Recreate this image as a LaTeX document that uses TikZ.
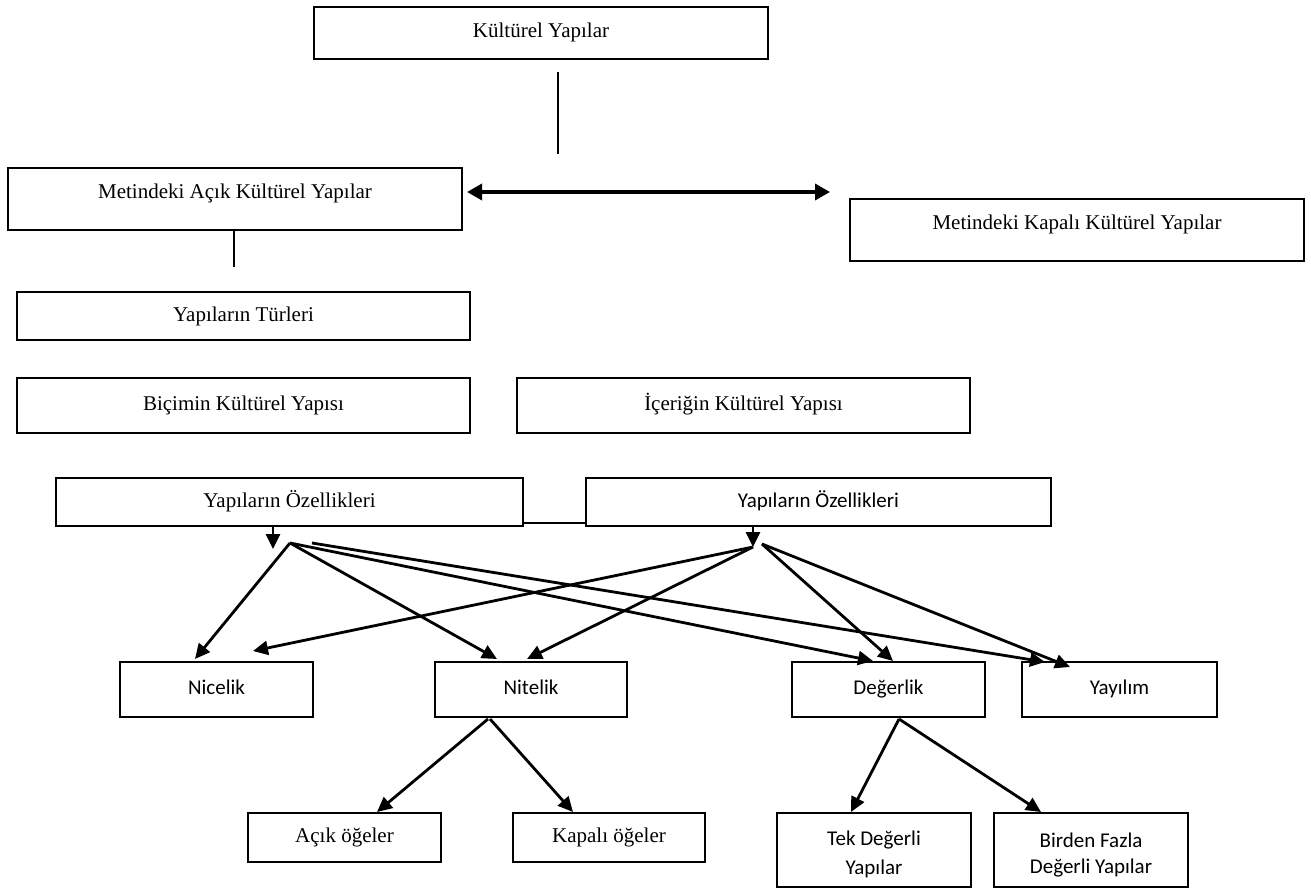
\documentclass[tikz,border=0pt]{standalone}
\usepackage{fontspec}
\setmainfont{Liberation Serif}
\newfontfamily\calfont{Carlito}
\usetikzlibrary{arrows.meta,calc}
\begin{document}
\begin{tikzpicture}[x=1pt,y=-1pt,
  serifbox/.style={draw=black, line width=2pt, inner sep=0pt, align=center,
    font=\fontsize{21}{25}\selectfont, text height=15pt, text depth=5pt},
  sansbox/.style={serifbox, font=\calfont\fontsize{21}{25}\selectfont},
  multibox/.style={draw=black, line width=2pt, inner sep=0pt, align=center,
    font=\calfont\fontsize{21}{#1}\selectfont},
  arr/.style={line width=2.8pt, -{Triangle[length=15pt,width=14pt]}},
  thinline/.style={line width=1.3pt},
  dblarr/.style={line width=3.4pt, {Triangle[length=15pt,width=16pt]}-{Triangle[length=15pt,width=16pt]}}
]
\useasboundingbox (0,0) rectangle (1311,888);

% boxes
\node[serifbox, minimum width=454pt, minimum height=52pt] (kult) at (541,33) {Kültürel Yapılar};
\node[serifbox, minimum width=454pt, minimum height=62pt, text depth=17pt] (acik) at (235,199) {Metindeki Açık Kültürel Yapılar};
\node[serifbox, minimum width=454pt, minimum height=62pt, text depth=17pt] (kapali) at (1077,230) {Metindeki Kapalı Kültürel Yapılar};
\node[serifbox, minimum width=453pt, minimum height=48pt] (turler) at (243.5,316) {Yapıların Türleri};
\node[serifbox, minimum width=453pt, minimum height=55pt] (bicim) at (243.5,405.5) {Biçimin Kültürel Yapısı};
\node[serifbox, minimum width=453pt, minimum height=55pt] (icerik) at (743.5,405.5) {İçeriğin Kültürel Yapısı};
\node[serifbox, minimum width=467pt, minimum height=48pt] (oz1) at (289.5,502) {Yapıların Özellikleri};
\node[sansbox, minimum width=465pt, minimum height=48pt] (oz2) at (818.5,502) {Yapıların Özellikleri};

\node[sansbox, minimum width=193pt, minimum height=55pt] (nicelik) at (216.5,689.5) {Nicelik};
\node[sansbox, minimum width=192pt, minimum height=55pt] (nitelik) at (531,689.5) {Nitelik};
\node[sansbox, minimum width=193pt, minimum height=55pt] (degerlik) at (888.5,689.5) {Değerlik};
\node[sansbox, minimum width=195pt, minimum height=55pt] (yayilim) at (1119.5,689.5) {Yayılım};

\node[serifbox, minimum width=193pt, minimum height=49pt] (acikoge) at (344.5,837.5) {Açık öğeler};
\node[serifbox, minimum width=192pt, minimum height=49pt] (kapalioge) at (609,837.5) {Kapalı öğeler};
\node[multibox=29pt, minimum width=194pt, minimum height=74pt, text height=54pt, text depth=5pt] (tek) at (874,850) {Tek Değerli\\Yapılar};
\node[multibox=26pt, minimum width=194pt, minimum height=74pt, text height=51pt, text depth=5pt] (birden) at (1091,850) {Birden Fazla\\Değerli Yapılar};

% free ends
\coordinate (vend) at (558,154);
\coordinate (aend) at (234,267);
\coordinate (dblend) at (830,192);
\coordinate (d1) at (273,549);
\coordinate (P1) at (290,543);
\coordinate (P1b) at (312,543);
\coordinate (P2a) at (753,547);
\coordinate (P2b) at (762,544);

% top connectors
\draw[thinline] ($(kult.south)+(17,12)$) -- (vend);
\draw[dblarr] ($(acik.east)+(4,-7)$) -- (dblend);
\draw[thinline] ($(acik.south)+(-1,0)$) -- (aend);

% link between the two property boxes
\draw[line width=2.2pt] ($(oz1.south east)+(0,-4)$) -- ($(oz2.south west)+(0,-4)$);

% down arrows
\draw[arr] ($(oz1.south)+(-16.5,0)$) -- (d1);
\draw[arr] ($(oz2.south)+(-65.5,0)$) -- (P2a);

% fan from left box
\draw[arr] (P1) -- ($(nicelik.north)+(-21.5,-2)$);
\draw[arr] (P1) -- ($(nitelik.north)+(-34,-2)$);
\draw[arr] (P1) -- ($(degerlik.north)+(-15.5,0)$);
\draw[arr] (P1b) -- ($(yayilim.north)+(-74.5,1)$);

% fan from right box
\draw[arr] (P2a) -- ($(nicelik.north)+(36.5,-10)$);
\draw[arr] (P2a) -- ($(nitelik.north)+(-4,-2)$);
\draw[arr] (P2b) -- ($(degerlik.north)+(4.5,0)$);
\draw[arr] (P2b) -- ($(yayilim.north)+(-49.5,6)$);

% lower level
\draw[arr] ($(nitelik.south)+(-43,1)$) -- ($(acikoge.north)+(32.5,0)$);
\draw[arr] ($(nitelik.south)+(-41,1)$) -- ($(kapalioge.north)+(-36,0)$);
\draw[arr] ($(degerlik.south)+(10.5,1)$) -- ($(tek.north)+(-23,0)$);
\draw[arr] ($(degerlik.south)+(10.5,1)$) -- ($(birden.north)+(-50,0)$);
\end{tikzpicture}
\end{document}
